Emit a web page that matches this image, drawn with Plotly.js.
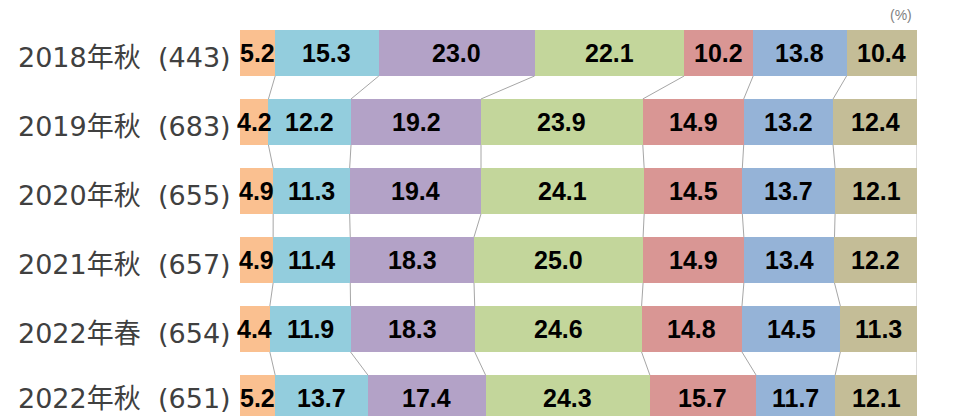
<!DOCTYPE html>
<html>
<head>
<meta charset="utf-8">
<script src="https://cdn.plot.ly/plotly-3.0.1.min.js"></script>
<style>html,body{margin:0;padding:0;background:#fff;}#chart{width:953px;height:416px;}</style>
</head>
<body>
<div id="chart"></div>
<script>
const periods = ["2018年秋", "2019年秋", "2020年秋", "2021年秋", "2022年春", "2022年秋"];
const counts = ["(443)", "(683)", "(655)", "(657)", "(654)", "(651)"];
const s1 = [5.2, 4.2, 4.9, 4.9, 4.4, 5.2];
const s2 = [15.3, 12.2, 11.3, 11.4, 11.9, 13.7];
const s3 = [23.0, 19.2, 19.4, 18.3, 18.3, 17.4];
const s4 = [22.1, 23.9, 24.1, 25.0, 24.6, 24.3];
const s5 = [10.2, 14.9, 14.5, 14.9, 14.8, 15.7];
const s6 = [13.8, 13.2, 13.7, 13.4, 14.5, 11.7];
const s7 = [10.4, 12.4, 12.1, 12.2, 11.3, 12.1];
const unitLabel = "(%)";

const series = [s1, s2, s3, s4, s5, s6, s7];
const colors = ["#FAC090", "#93CDDD", "#B3A2C7", "#C3D69B", "#D99694", "#95B3D7", "#C4BD97"];
const yIdx = periods.map((_, i) => i);
const barW = 0.667;

const traces = [];
series.forEach((vals, k) => {
  traces.push({
    type: "bar", orientation: "h",
    x: vals, y: yIdx, width: barW,
    marker: {color: colors[k], line: {width: 0}},
    hoverinfo: "skip"
  });
});

// normalized cumulative boundaries (100% stacked)
const totals = yIdx.map(i => series.reduce((a, s) => a + s[i], 0));
const cum = yIdx.map(i => {
  let c = 0; const out = [];
  series.forEach(s => { c += s[i] / totals[i] * 100; out.push(c); });
  return out;
});
for (let i = 0; i < periods.length - 1; i++) {
  for (let k = 0; k < series.length; k++) {
    const last = k === series.length - 1;
    traces.push({
      type: "scatter", mode: "lines",
      x: [cum[i][k], cum[i + 1][k]],
      y: [i + barW / 2, i + 1 - barW / 2],
      line: {color: last ? "#CFCFCF" : "#A6A6A6", width: last ? 1.5 : 1},
      hoverinfo: "skip", showlegend: false
    });
  }
}

const L = 240, R = 36, W = 953, T = 12, H = 416;
const pw = W - L - R, ph = H - T;
const px2paper = p => (p - L) / pw;
const annotations = [];
const labelFont = {family: "DejaVu Sans, Noto Sans CJK JP, sans-serif", size: 27, color: "#404040"};
periods.forEach((p, i) => {
  const ys = i === periods.length - 1 ? -1 : -5;
  annotations.push({xref: "paper", yref: "y", x: px2paper(16), y: i, yshift: ys, xanchor: "left", yanchor: "middle",
    text: p, showarrow: false, font: labelFont});
  annotations.push({xref: "paper", yref: "y", x: px2paper(233), y: i, yshift: ys, xanchor: "right", yanchor: "middle",
    text: counts[i], showarrow: false, font: labelFont});
});
// value labels at segment centres
series.forEach((vals, k) => {
  vals.forEach((v, i) => {
    const start = k === 0 ? 0 : cum[i][k - 1];
    annotations.push({xref: "x", yref: "y", x: (start + cum[i][k]) / 2, y: i, xanchor: "center", yanchor: "middle",
      text: v.toFixed(1), showarrow: false,
      font: {family: "Liberation Sans, Arial, sans-serif", size: 25, color: "#000", weight: "bold"}});
  });
});
annotations.push({xref: "paper", yref: "paper", x: px2paper(914), y: 1 - 3 / ph, xanchor: "right", yanchor: "middle",
  text: unitLabel, showarrow: false, font: {family: "Liberation Sans, Arial, sans-serif", size: 14, color: "#7F7F7F"}});

const layout = {
  width: W, height: H,
  margin: {l: L, r: R, t: T, b: 0, pad: 0},
  barmode: "stack", barnorm: "percent",
  showlegend: false,
  paper_bgcolor: "#fff", plot_bgcolor: "#fff",
  xaxis: {range: [0, 100], showgrid: false, zeroline: false, showticklabels: false, ticks: "", fixedrange: true},
  yaxis: {range: [-0.594 + ph / 69, -0.594], showgrid: false, zeroline: false, showticklabels: false, ticks: "", fixedrange: true},
  annotations: annotations
};

Plotly.newPlot("chart", traces, layout, {staticPlot: true, displayModeBar: false});
</script>
</body>
</html>
